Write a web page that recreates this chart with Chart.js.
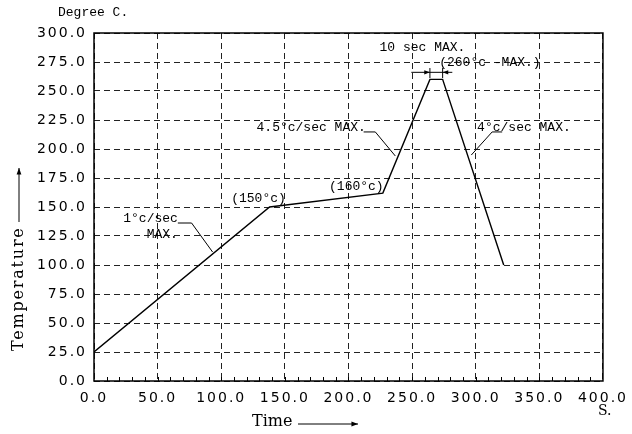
<!DOCTYPE html>
<html>
<head>
<meta charset="utf-8">
<script src="https://cdn.jsdelivr.net/npm/chart.js@4/dist/chart.umd.min.js"></script>
<style>
  html, body { margin: 0; padding: 0; background: #fff; }
  canvas { display: block; }
</style>
</head>
<body>
<canvas id="chart" width="632" height="434"></canvas>
<script>
// reflow profile
const timeS = [0, 138, 227, 264, 274, 322];
const tempC = [25, 150, 162, 260, 260, 100];

// axis ranges / tick steps
const xRange = [0, 400];
const yRange = [0, 300];
const xStep = 50;
const yStep = 25;
const minorStep = 10;

// annotations, in data units
const noteText  = ['1°c/sec', 'MAX.', '(150°c)', '(160°c)', '4.5°c/sec MAX.', '4°c/sec MAX.', '10 sec MAX.', '(260°c -MAX.)'];
const noteX     = [65.9, 65.9, 129.3, 206.2, 213.6, 301.1, 224.4, 271.3];
const noteY     = [139.7, 125.9, 156.9, 167.2, 218.1, 218.1, 287.1, 274.1];
const noteAlign = ['right', 'right', 'center', 'center', 'right', 'left', 'left', 'left'];

// leader lines, in data units
const leaders = [
  [[65.9, 136.2], [76.7, 136.2], [93.2, 111.2]],
  [[211.9, 214.7], [221.1, 214.7], [236.8, 194.0]],
  [[320.8, 214.7], [312.9, 214.7], [296.5, 194.8]]
];
// "10 sec" dimension line
const dimY = 266.1;
const dimFrom = [249.4, 281.6];
const dimTickY = [261.2, 269.8];

function arrowHead(ctx, x1, y1, x2, y2, size) {
  const a = Math.atan2(y2 - y1, x2 - x1);
  ctx.beginPath();
  ctx.moveTo(x2, y2);
  ctx.lineTo(x2 - size * Math.cos(a - 0.35), y2 - size * Math.sin(a - 0.35));
  ctx.lineTo(x2 - size * Math.cos(a + 0.35), y2 - size * Math.sin(a + 0.35));
  ctx.closePath();
  ctx.fill();
}

function arrow(ctx, x1, y1, x2, y2, size) {
  ctx.beginPath();
  ctx.moveTo(x1, y1);
  ctx.lineTo(x2, y2);
  ctx.stroke();
  arrowHead(ctx, x1, y1, x2, y2, size);
}

const overlay = {
  id: 'overlay',
  beforeDraw(chart) {
    chart.ctx.letterSpacing = '2px';
  },
  beforeDatasetsDraw(chart) {
    chart.ctx.letterSpacing = '0px';
  },
  afterDraw(chart) {
    const ctx = chart.ctx;
    const xs = chart.scales.x, ys = chart.scales.y;
    const a = chart.chartArea;
    ctx.save();
    ctx.letterSpacing = '0px';
    ctx.strokeStyle = '#000';
    ctx.fillStyle = '#000';

    // frame
    ctx.lineWidth = 1.5;
    ctx.strokeRect(a.left, a.top, a.right - a.left, a.bottom - a.top);

    // minor ticks on bottom axis
    ctx.lineWidth = 1;
    ctx.beginPath();
    for (let v = xRange[0] + minorStep; v < xRange[1]; v += minorStep) {
      const px = Math.round(xs.getPixelForValue(v)) + 0.5;
      ctx.moveTo(px, a.bottom);
      ctx.lineTo(px, a.bottom - 4);
    }
    ctx.stroke();

    // notes
    ctx.font = '13px "Liberation Mono"';
    ctx.textBaseline = 'middle';
    noteText.forEach((t, i) => {
      ctx.textAlign = noteAlign[i];
      ctx.fillText(t, xs.getPixelForValue(noteX[i]), ys.getPixelForValue(noteY[i]));
    });

    // leaders
    ctx.lineWidth = 1;
    leaders.forEach(pts => {
      ctx.beginPath();
      pts.forEach((p, j) => {
        const px = xs.getPixelForValue(p[0]), py = ys.getPixelForValue(p[1]);
        if (j === 0) ctx.moveTo(px, py); else ctx.lineTo(px, py);
      });
      ctx.stroke();
    });

    // dimension for the peak plateau
    const dy = ys.getPixelForValue(dimY);
    const p0 = xs.getPixelForValue(timeS[3]), p1 = xs.getPixelForValue(timeS[4]);
    arrow(ctx, xs.getPixelForValue(dimFrom[0]), dy, p0, dy, 6);
    arrow(ctx, xs.getPixelForValue(dimFrom[1]), dy, p1, dy, 6);
    ctx.beginPath();
    ctx.moveTo(p0, dy); ctx.lineTo(p1, dy);
    [p0, p1].forEach(p => {
      ctx.moveTo(p, ys.getPixelForValue(dimTickY[0]));
      ctx.lineTo(p, ys.getPixelForValue(dimTickY[1]));
    });
    ctx.stroke();

    // axis captions
    ctx.font = '13px "Liberation Mono"';
    ctx.textAlign = 'left';
    ctx.fillText('Degree C.', 58, 13);

    ctx.font = '16px "DejaVu Serif"';
    ctx.fillText('Time', 252, 422);
    arrow(ctx, 298, 424, 358, 424, 7);

    ctx.font = '14px "DejaVu Serif"';
    ctx.fillText('S.', 598, 411);

    ctx.save();
    ctx.translate(19, 351);
    ctx.rotate(-Math.PI / 2);
    ctx.font = '16px "DejaVu Serif"';
    ctx.letterSpacing = '1.8px';
    ctx.textAlign = 'left';
    ctx.fillText('Temperature', 0, 0);
    ctx.restore();
    arrow(ctx, 19, 222, 19, 168, 7);

    ctx.restore();
  }
};

new Chart(document.getElementById('chart'), {
  type: 'line',
  data: {
    datasets: [{
      data: timeS.map((t, i) => ({ x: t, y: tempC[i] })),
      borderColor: '#000',
      borderWidth: 1.4,
      pointRadius: 0,
      tension: 0,
      fill: false
    }]
  },
  options: {
    responsive: false,
    animation: false,
    layout: { padding: { left: 0, right: 27, top: 33, bottom: 0 } },
    plugins: { legend: { display: false }, tooltip: { enabled: false } },
    scales: {
      x: {
        type: 'linear',
        min: xRange[0],
        max: xRange[1],
        afterFit(scale) { scale.height = 53; },
        grid: { color: '#222', lineWidth: 1, drawTicks: false },
        border: { display: false, dash: [6, 4] },
        ticks: {
          stepSize: xStep,
          padding: 9,
          color: '#000',
          maxRotation: 0,
          font: { family: '"DejaVu Sans"', size: 14 },
          callback: v => v.toFixed(1)
        }
      },
      y: {
        min: yRange[0],
        max: yRange[1],
        afterFit(scale) { scale.width = 94; },
        grid: { color: '#222', lineWidth: 1, drawTicks: false },
        border: { display: false, dash: [6, 4] },
        ticks: {
          stepSize: yStep,
          padding: 7,
          color: '#000',
          font: { family: '"DejaVu Sans"', size: 14 },
          callback: v => v.toFixed(1)
        }
      }
    }
  },
  plugins: [overlay]
});
</script>
</body>
</html>
